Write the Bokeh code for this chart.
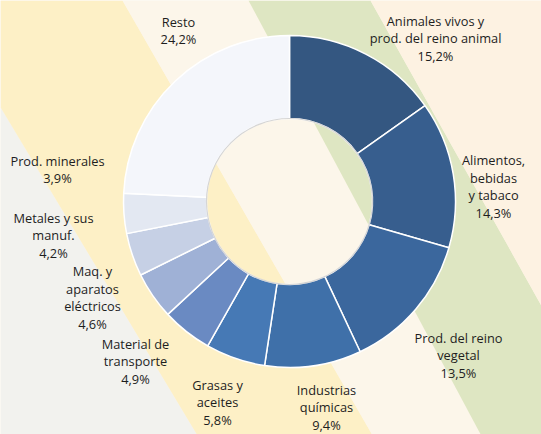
import numpy as np
from bokeh.plotting import figure
from bokeh.models import ColumnDataSource, Range1d
from bokeh.embed import file_html
from bokeh.resources import INLINE
from bokeh.core.properties import value

# ---------------- data ----------------
categories = [
    "Animales vivos y\nprod. del reino animal",
    "Alimentos,\nbebidas\ny tabaco",
    "Prod. del reino\nvegetal",
    "Industrias\nquímicas",
    "Grasas y\naceites",
    "Material de\ntransporte",
    "Maq. y\naparatos\neléctricos",
    "Metales y sus\nmanuf.",
    "Prod. minerales",
    "Resto",
]
shares = [15.2, 14.3, 13.5, 9.4, 5.8, 4.9, 4.6, 4.2, 3.9, 24.2]

# ---------------- style / layout ----------------
W, H = 541, 434
slice_colors = ["#345781", "#375e8e", "#3b679d", "#3f70a9", "#4679b5",
                "#6a8ac2", "#9fb1d6", "#c6d0e5", "#e3e8f2", "#f4f6fb"]
CX, CY = 289, 201          # ring centre (pixels from top-left)
R_OUT, R_IN = 166, 83
# label block centres (pixels from top-left)
label_pos = [(435, 38), (493, 186), (458, 355), (326, 407), (217, 402),
             (135, 361), (92, 297), (53, 235), (57, 169), (178, 30)]

def fy(y):  # pixel-from-top -> data y (up)
    return H - y

p = figure(width=W, height=H, x_range=Range1d(0, W), y_range=Range1d(0, H),
           output_backend="svg", toolbar_location=None, min_border=0,
           background_fill_color="#fcf5e8", border_fill_color="#fcf5e8")
p.axis.visible = False
p.grid.visible = False
p.outline_line_color = None

# background diagonal bands
def lx(a, b, y):
    return a + b * y
A = (-64, 0.6); B = (122, 0.575); C = (248, 0.535); D = (370, 0.56)
bands = [
    ("#f2f2ee", [0, 0, lx(*A, H)], [-A[0] / A[1], H, H]),
    ("#fdf0c6", [0, lx(*B, 0), lx(*B, H), lx(*A, H), 0], [0, 0, H, H, -A[0] / A[1]]),
    ("#fcf6ea", [lx(*B, 0), lx(*C, 0), lx(*C, H), lx(*B, H)], [0, 0, H, H]),
    ("#dee6c2", [lx(*C, 0), lx(*D, 0), W, W, lx(*C, H)], [0, 0, (W - D[0]) / D[1], H, H]),
    ("#fdf2e2", [lx(*D, 0), W, W], [0, 0, (W - D[0]) / D[1]]),
]
for col, xs, ys in bands:
    p.patch(xs, [fy(v) for v in ys], fill_color=col, line_color=None)

# ring
vals = np.array(shares, dtype=float)
frac = vals / vals.sum()
cum = np.concatenate([[0], np.cumsum(frac)])
start = np.pi / 2 - 2 * np.pi * cum[:-1]
end = np.pi / 2 - 2 * np.pi * cum[1:]
src = ColumnDataSource(dict(start=start, end=end, color=slice_colors))
p.annular_wedge(x=CX, y=fy(CY), inner_radius=R_IN, outer_radius=R_OUT,
                start_angle="start", end_angle="end", direction="clock",
                fill_color="color", line_color="white", line_width=1.5, source=src)
p.circle(x=CX, y=fy(CY), radius=R_IN, fill_color=None,
         line_color="#b9b9b9", line_alpha=0.6, line_width=1.2)

# labels
texts = [c + "\n" + f"{v:.1f}".replace(".", ",") + "%" for c, v in zip(categories, shares)]
lsrc = ColumnDataSource(dict(x=[q[0] for q in label_pos], y=[fy(q[1]) for q in label_pos], t=texts))
p.text(x="x", y="y", text="t", source=lsrc, text_align="center", text_baseline="middle",
       text_font=value("Open Sans"), text_font_size="12.8px", text_color="#1e1e1e",
       text_line_height=0.97)

open("out.html", "w").write(file_html(p, INLINE))
